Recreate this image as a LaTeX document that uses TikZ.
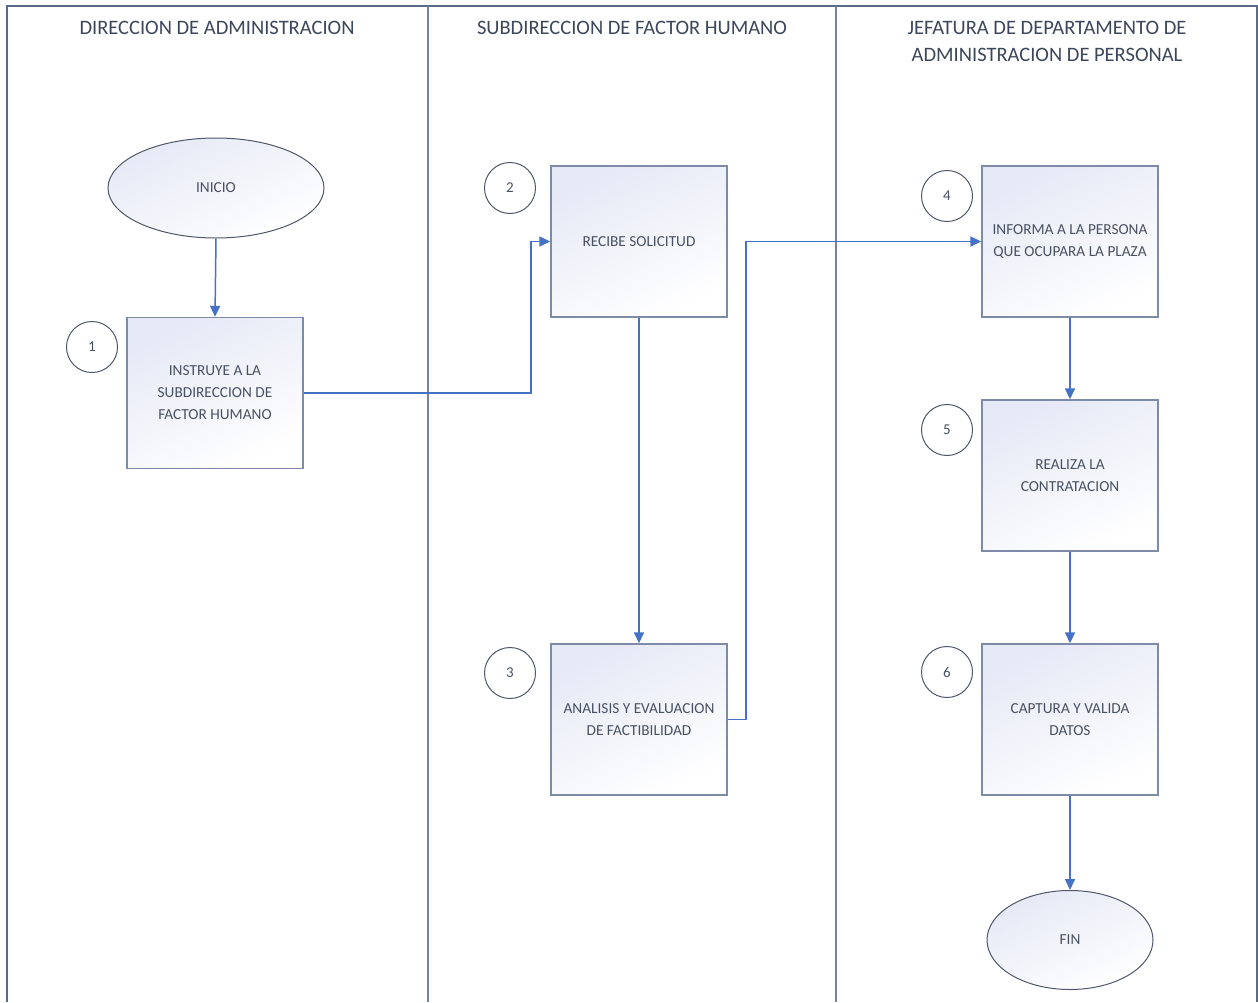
\documentclass[tikz,border=0pt]{standalone}
\usepackage{fontspec}
\setmainfont{Carlito}
\usetikzlibrary{arrows.meta,shapes.geometric}
\definecolor{framec}{HTML}{5B6B86}
\definecolor{lanec}{HTML}{7383A0}
\definecolor{boxline}{HTML}{7D8AA8}
\definecolor{boxtop}{HTML}{E6E9F6}
\definecolor{conn}{HTML}{4472C4}
\definecolor{numline}{HTML}{4F5868}
\definecolor{txt}{HTML}{485163}
\definecolor{headtxt}{HTML}{3D475B}
\tikzset{
  stepbox/.style={rectangle, draw=boxline, line width=1.4pt,
    top color=boxtop, bottom color=white, shading angle=25,
    minimum width=176pt, minimum height=151pt, inner sep=0pt,
    align=center, text=txt, font=\fontsize{15.3}{22}\selectfont},
  term/.style={ellipse, draw=numline, line width=1pt,
    top color=boxtop, bottom color=white, shading angle=25,
    inner sep=0pt, text=txt, font=\fontsize{15.3}{22}\selectfont},
  num/.style={circle, draw=numline, line width=1pt, fill=white,
    minimum size=51pt, inner sep=0pt, text=txt,
    font=\fontsize{15}{18}\selectfont},
  flow/.style={draw=conn, line width=1.5pt, -{Triangle[length=11pt,width=10pt]}},
  head/.style={align=center, text=headtxt, font=\fontsize{20.5}{27}\selectfont},
  lane/.style={draw=lanec, line width=1.6pt}
}
\begin{document}
\begin{tikzpicture}[x=1pt,y=-1pt]
\useasboundingbox (0,0) rectangle (1258,1002);
\fill[white] (0,0) rectangle (1258,1002);

% outer frame and lane separators
\draw[draw=framec, line width=2pt] (6.5,1002) -- (6.5,5.5) -- (1256.5,5.5) -- (1256.5,1002);
\draw[lane] (428,5.5) -- (428,1002);
\draw[lane] (836,5.5) -- (836,1002);

% lane titles
\node[head] (h1) at (217,28) {DIRECCION DE ADMINISTRACION};
\node[head] (h2) at (632,28) {SUBDIRECCION DE FACTOR HUMANO};
\node[head] (h3) at (1047,41.5) {JEFATURA DE DEPARTAMENTO DE\\ADMINISTRACION DE PERSONAL};

% terminals
\node[term, minimum width=216pt, minimum height=100pt] (ini) at (216,188) {INICIO};
\node[term, minimum width=166pt, minimum height=99pt] (fin) at (1070,940) {FIN};

% process boxes
\node[stepbox] (b1) at (215,393) {INSTRUYE A LA\\SUBDIRECCION DE\\FACTOR HUMANO};
\node[stepbox] (b2) at (639,241.5) {RECIBE SOLICITUD};
\node[stepbox] (b3) at (639,719.5) {ANALISIS Y EVALUACION\\DE FACTIBILIDAD};
\node[stepbox] (b4) at (1070,241.5) {INFORMA A LA PERSONA\\QUE OCUPARA LA PLAZA};
\node[stepbox] (b5) at (1070,475.5) {REALIZA LA\\CONTRATACION};
\node[stepbox] (b6) at (1070,719.5) {CAPTURA Y VALIDA\\DATOS};

% step numbers
\node[num] (n1) at (92,347) {1};
\node[num] (n2) at (510,188) {2};
\node[num] (n3) at (510,673) {3};
\node[num] (n4) at (947,196) {4};
\node[num] (n5) at (947,430) {5};
\node[num] (n6) at (947,672) {6};

% routing columns for the elbow connectors
\coordinate (j1) at (531,0);
\coordinate (j2) at (746,0);

% connectors
\draw[flow] (ini.south) -- (b1.north);
\draw[flow] (b1.east) -- (b1.east -| j1) |- (b2.west);
\draw[flow] (b2.south) -- (b3.north);
\draw[flow] (b3.east) -- (b3.east -| j2) |- (b4.west);
\draw[flow] (b4.south) -- (b5.north);
\draw[flow] (b5.south) -- (b6.north);
\draw[flow] (b6.south) -- (fin.north);
\end{tikzpicture}
\end{document}
